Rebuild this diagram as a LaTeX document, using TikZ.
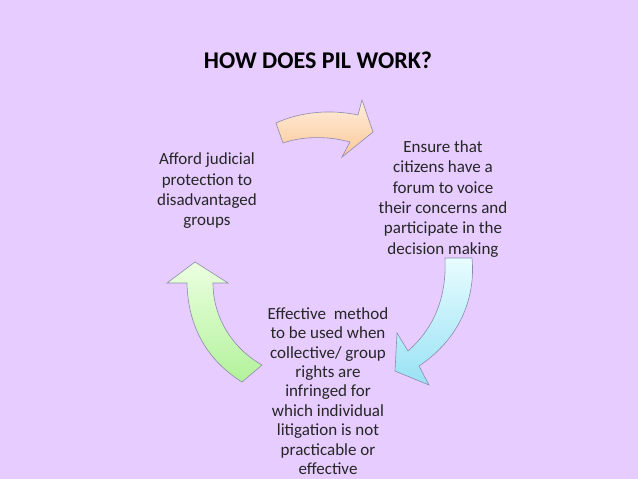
\documentclass[tikz,border=0pt]{standalone}
\usepackage{fontspec}
\setmainfont{Carlito}
\usepackage{xcolor}
\usetikzlibrary{positioning}
\definecolor{lavbg}{HTML}{E6CCFF}
\definecolor{rim}{HTML}{8E8AAE}
\definecolor{peachtop}{HTML}{FFEEDD}
\definecolor{peachbot}{HTML}{FAC898}
\definecolor{cyantop}{HTML}{E8FCFF}
\definecolor{cyanbot}{HTML}{98E2F4}
\definecolor{greentop}{HTML}{ECFFE0}
\definecolor{greenbot}{HTML}{B2F29A}

\begin{document}
\begin{tikzpicture}[x=1pt, y=-1pt,
    txt/.style={align=center, font=\fontsize{17}{20.3}\selectfont, text=black!85},
    arr/.style={draw=rim, line width=0.6pt}]
    \fill[lavbg] (0,0) rectangle (638,479);
    \useasboundingbox (0,0) rectangle (638,479);

    \node[font=\bfseries\fontsize{24}{28}\selectfont] (title) at (318,60) {HOW DOES PIL WORK?};

    \node[txt] (afford) at (207,191) {Afford judicial\\protection to\\disadvantaged\\groups};
    \node[txt] (ensure) at (443,199) {Ensure that\\citizens have a\\forum to voice\\their concerns and\\participate in the\\decision making};
    \node[txt, inner sep=0pt, font=\fontsize{17}{19.4}\selectfont] (method) at (328,391) {Effective\ \ method\\to be used when\\collective/ group\\rights are\\infringed for\\which individual\\litigation is not\\practicable or\\effective};

    % arrows of the cycle
    \shade[arr, top color=peachtop, bottom color=peachbot]
        (276,123) .. controls (300,112) and (330,109) .. (358,115) -- (362,100) -- (373,132)
        -- (342,157) -- (350,142) .. controls (325,135) and (300,137) .. (283,143) -- cycle;
    \shade[arr, top color=cyantop, bottom color=cyanbot]
        (445,258) -- (472,258) .. controls (476,300) and (458,340) .. (419,366) -- (429,385)
        -- (395,371) -- (397,333) -- (408,351) .. controls (432,330) and (447,300) .. (445,258) -- cycle;
    \shade[arr, top color=greentop, bottom color=greenbot]
        (242,382) .. controls (210,362) and (188,330) .. (187,283) -- (167,283) -- (195,262)
        -- (228,283) -- (213,283) .. controls (213,320) and (235,350) .. (262,365) -- cycle;
\end{tikzpicture}
\end{document}
